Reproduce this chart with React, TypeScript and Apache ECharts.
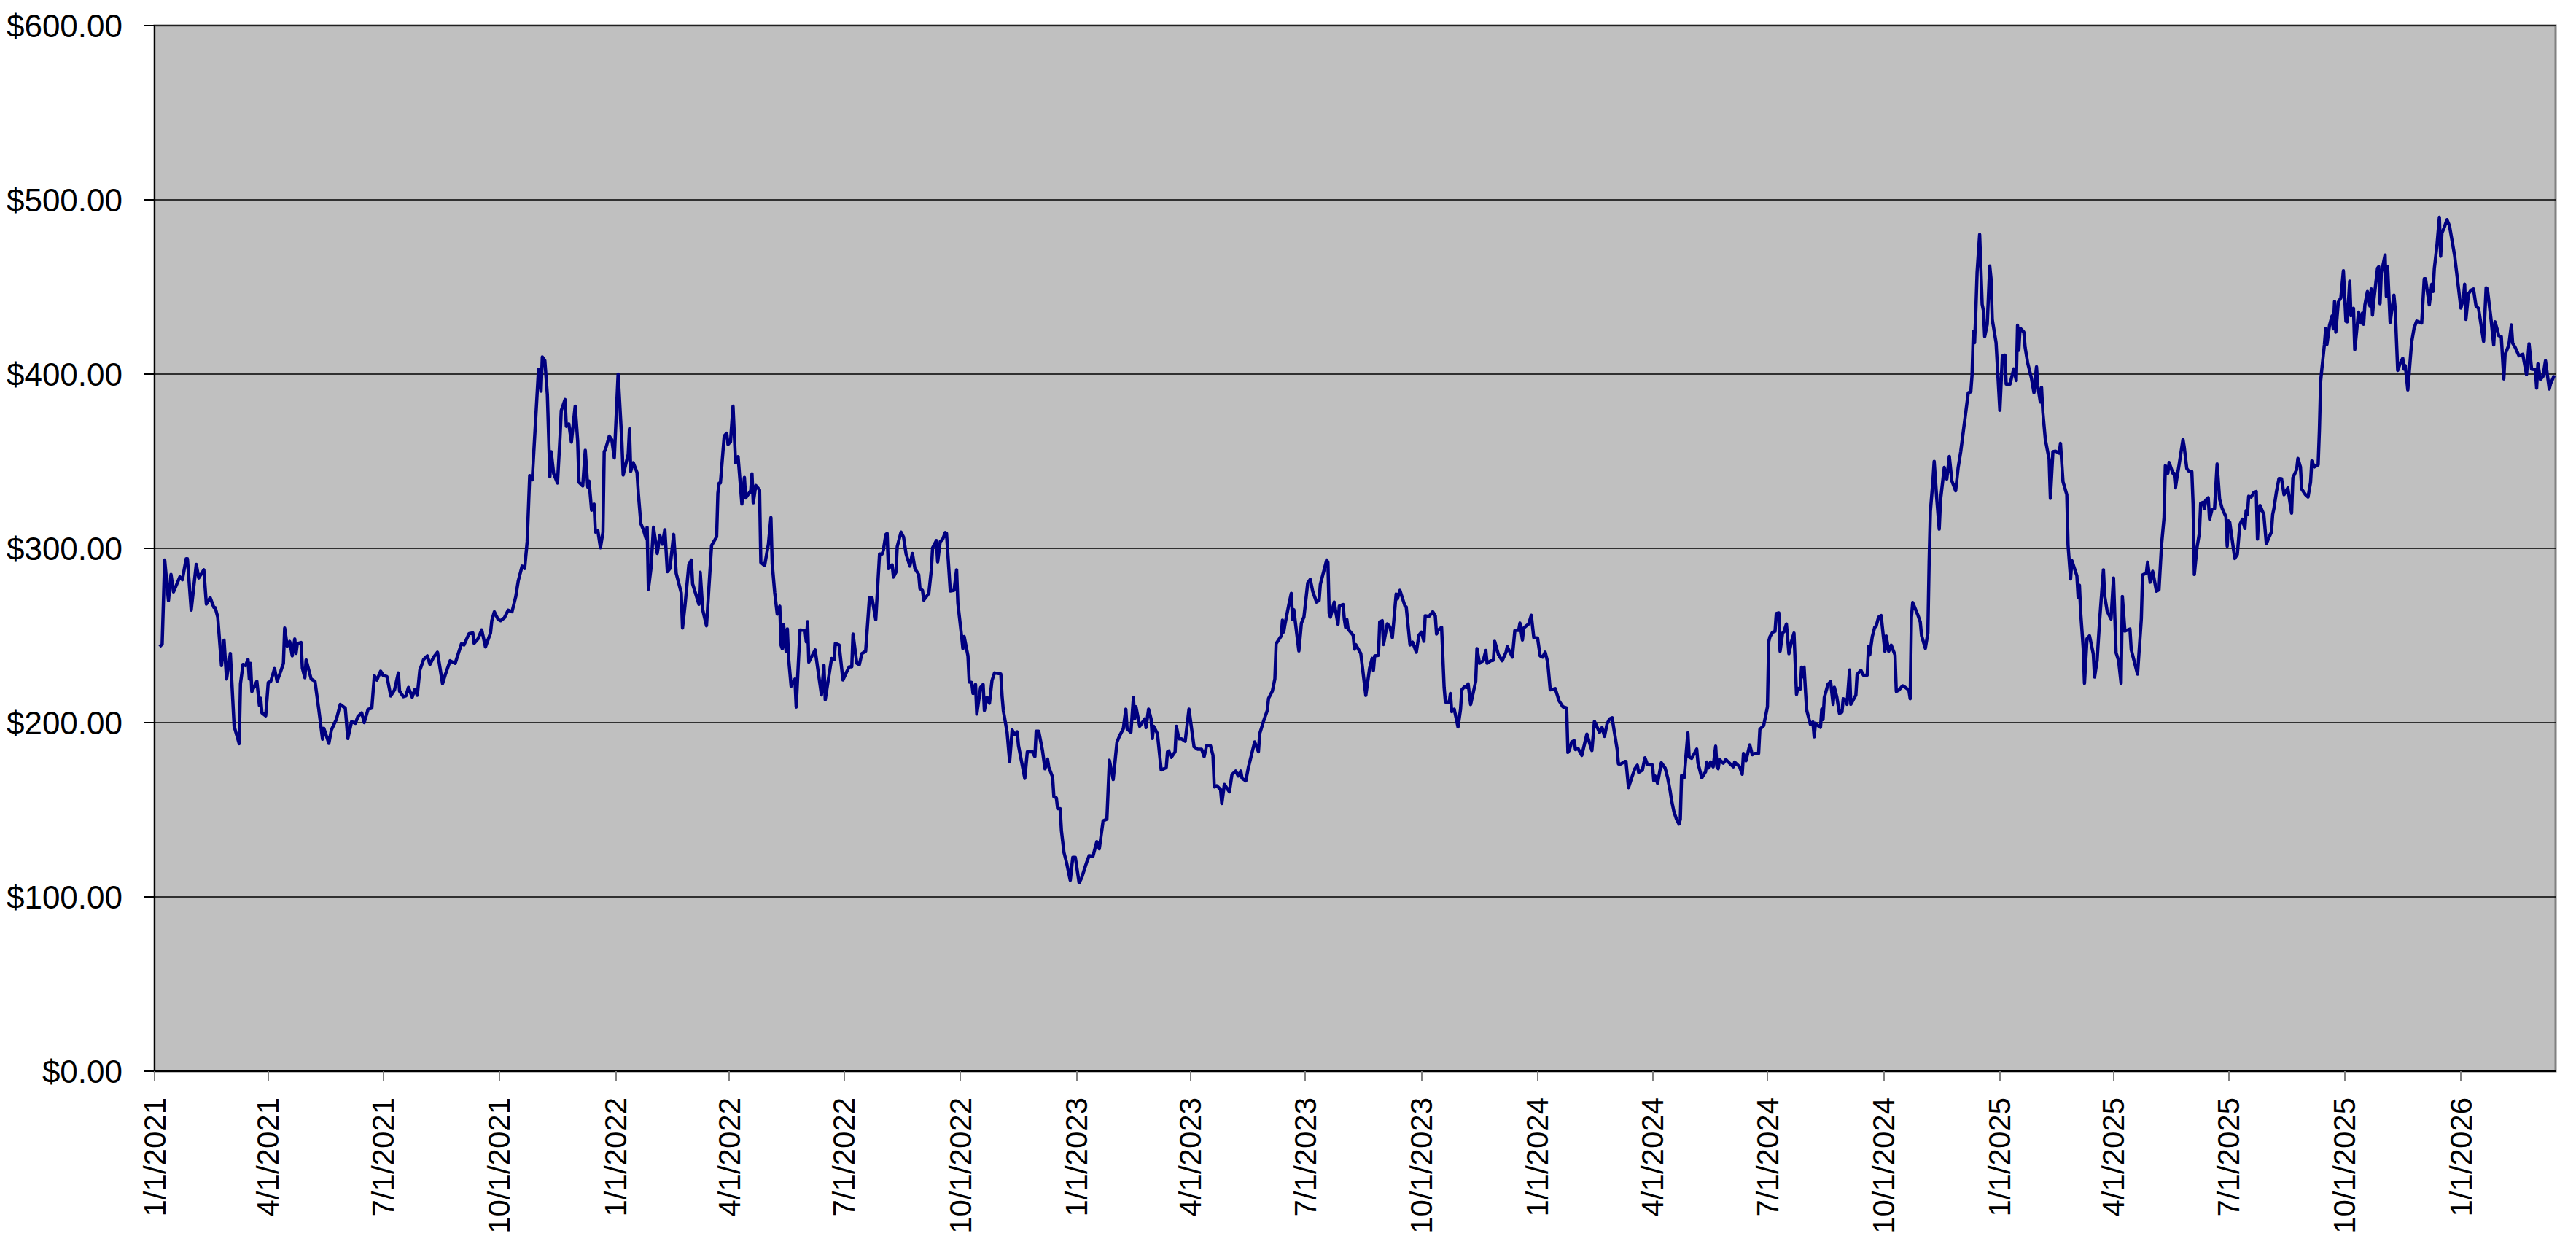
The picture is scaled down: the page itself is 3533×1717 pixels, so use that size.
import React, { useEffect, useRef } from "react";
import * as echarts from "echarts";

// Day offsets are counted from 1/1/2021; each pair is [dayOffset, closingPrice]
const START_UTC = Date.UTC(2021, 0, 1);
const DAY_MS = 86400000;
const axisEndDay = 1901;

const quarterLabels = [
  "1/1/2021", "4/1/2021", "7/1/2021", "10/1/2021",
  "1/1/2022", "4/1/2022", "7/1/2022", "10/1/2022",
  "1/1/2023", "4/1/2023", "7/1/2023", "10/1/2023",
  "1/1/2024", "4/1/2024", "7/1/2024", "10/1/2024",
  "1/1/2025", "4/1/2025", "7/1/2025", "10/1/2025",
  "1/1/2026",
];

const priceMin = 0;
const priceMax = 600;
const priceStep = 100;

const prices2021a: [number, number][] = [
  [4,243.6],[6,245],[8,293.3],[11,270],[13,285],[15,275],[20,283.6],[22,282],[25,294],[26,294],[29,264.5],[33,290.8],[35,283],[39,287.7],[41,268],[44,271.7],[47,266],[48,266],[50,260.6],[53,232.7],[55,247.3],[57,225],[60,239.7],[63,197.9],[67,187.9],[68,222.3],[70,233.4],[72,232.7],[74,236.2],[75,225],[76,234],[77,217.8],[81,223.7],[83,209.7],[84,214],[85,205.6],[88,203.9],[90,223],[92,223.7],[95,231],[97,223.7],[100,229.7],[102,234],[103,254.3],[105,243.9],[107,246.6],[109,238.3],[111,248],[112,239.7],[113,245.3],[116,246],[117,231.3],[119,225.8],[120,236],[124,225],[127,223.7],[130,207.6],[133,190.5],[134,196.8],[138,188.1],[140,195.8],[144,202],[147,210.4],[151,208.3],[153,190.9],[156,200.6],[159,199.6],[161,203.5],[164,205.6],[166,200],[169,207.6],[172,208.3],[174,226.9],[176,224.4],[179,229.5],[181,227.1],[184,226.4],[187,215.3],[190,218.8],[193,228.5],[194,218],[197,214.9],[199,215.3],[201,220.2],[204,214.6],[206,219],[208,215.7],[210,230],[213,236.2],[216,238.3],[218,233.4],[221,237.6],[224,240.4],[228,222.3],[230,227.1],[234,235.5],[238,234],[243,245.3],[245,244.6],[249,251.1],[252,251.5],[253,245.5],[256,248],[259,253.2],[262,243.4],[266,251.5],[267,258.5],[269,263.6],[272,259.2],[274,258.5],[277,260.2],[280,264.5],[283,263.6],[286,272.4],[288,281.5],[291,289.8],
];

const prices2021b: [number, number][] = [
  [293,288.4],[295,303.8],[297,341.7],[299,339.3],[304,402.8],[306,390.2],[307,409.8],[309,407.7],[311,388.1],[313,341],[314,355.4],[316,342.8],[319,337.5],[321,363.7],[322,379.1],[325,385.4],[326,370],[328,371.4],[330,361],[333,381.6],[335,361.6],[336,337.9],[339,335.8],[341,356.3],[343,335.1],[344,338.6],[346,321.9],[348,325.4],[349,309.3],[351,310],[353,300.3],[355,309.3],[356,355.4],[357,356.8],[360,364.4],[362,362.3],[364,351.9],[367,400],[370,361],[371,342.1],[375,354],[376,368.6],[377,344.2],[379,349.1],[382,343.5],[383,331.7],[385,314.2],[387,310.7],[389,305.9],[390,312.1],[391,276.6],[393,288.4],[395,312.1],[398,297.1],[400,307.5],[402,302.4],[404,310.7],[406,286.6],[408,288.4],[411,308],[413,285.6],[417,274.5],[418,254.3],[420,267.5],[423,290.5],[425,293.3],[426,279.6],[431,267.8],[432,286.3],[434,264.7],[437,255.6],[441,301.6],[445,306.6],[446,331.7],[447,337.5],[448,337.5],[451,364.4],[453,366.1],[454,359.6],[456,361.2],[458,381.6],[460,349.1],[462,352.6],[465,325.4],[467,340.7],[468,328.9],[472,333.1],[473,342.8],[474,326.1],[476,336.1],[479,333.5],[480,291.9],[483,290.1],[486,302.4],[488,317.7],[489,291.2],[491,274.5],[493,262.2],[495,266.8],[496,244.5],[497,242.4],[498,256.3],[500,241],[501,253.8],[502,236.8],[504,220.8],[507,225],[508,208.9],[511,253.1],[515,252.9],[516,246.3],[517,258],[518,234.7],[523,241.7],[528,215.9],[530,232.9],[531,213.1],[536,236.8],[538,236.1],[539,245.5],[542,244.5],[545,224.5],[548,229.2],[550,232],[552,232],[553,250.8],[556,234],[558,233.3],[560,239.6],[563,241],[566,271.7],[568,271.7],[571,259.1],[574,296.8],[576,296.8],[577,298.9],[579,308],[580,308.6],[581,288.4],[584,290.5],[585,283.5],[587,286.3],[588,301],[591,309.3],
];

const prices2022: [number, number][] = [
  [593,306.5],[595,296.8],[598,289.8],[600,297.1],[602,288.4],[605,285],[606,276.9],[608,275.9],[609,270.3],[613,274.2],[615,287.7],[616,300.3],[619,304.5],[620,292.2],[622,303.8],[624,305.2],[626,309.1],[627,308.6],[630,275.5],[633,275.9],[635,287.7],[636,268.5],[639,249.4],[640,242.5],[641,249.4],[644,238.3],[645,223.3],[647,223],[648,216.7],[650,221.9],[651,204.9],[654,220.2],[656,221.9],[657,207],[659,214.6],[661,211.1],[663,224.1],[665,228.5],[670,227.9],[671,215.3],[672,207],[675,194.4],[677,177.7],[679,195.8],[681,193],[683,194.7],[684,186.8],[689,168],[691,183.3],[695,183.3],[697,180.5],[698,195.1],[700,195.1],[703,184],[705,173.5],[707,179.1],[708,174.5],[711,168.7],[712,157.5],[714,156.8],[715,150.6],[717,150.6],[718,138],[720,125.5],[722,119.9],[725,109.5],[727,122.7],[729,122.7],[732,108.1],[734,110.9],[738,119.9],[740,123.7],[743,123.4],[746,131.7],[748,127.6],[751,143.6],[754,144.6],[756,178.4],[759,167.3],[762,188.9],[764,192.3],[767,196.5],[769,207.7],[770,196.5],[773,194.4],[775,214.3],[776,202.1],[777,209.1],[780,197.9],[784,202.1],[785,197.2],[787,207.7],[789,202.1],[790,190.9],[791,197.9],[794,193.7],[797,172.8],[801,174.2],[802,183.3],[803,183.7],[805,180.1],[808,183.3],[809,197.9],[811,190.7],[813,190.7],[816,189.3],[819,207.7],[823,186.1],[826,184.7],[829,184.7],[831,180.5],[833,186.8],[836,186.8],[838,181.2],[839,163.1],[841,163.8],[844,161.7],[845,153.6],[847,164.5],[851,160.3],[853,170.1],[856,172.2],[858,169.4],[860,172.2],[861,168],[864,166.6],[866,174.2],[871,188.9],[874,183.3],[875,193.7],[878,200.7],[881,207],[882,213.9],[885,218.1],[887,225.1],[888,245.3],[892,249.7],[893,258.8],
];

const prices2023: [number, number][] = [
  [894,252],[895,256.4],[898,267.5],[900,274.2],[901,259.2],[902,264.8],[906,241.1],[908,257.1],[910,260.6],[913,280.1],[915,282.2],[917,275.2],[920,269.2],[922,270.1],[923,279.4],[926,287.7],[928,293.3],[929,291.9],[930,262.7],[931,260.6],[934,269.2],[935,264.5],[937,256.4],[938,266.9],[941,267.8],[942,259.2],[943,254.6],[944,259.2],[945,253.6],[949,250.1],[950,242.2],[951,244.8],[955,239.7],[959,215.6],[962,231.3],[964,236.9],[965,229.9],[966,238.3],[969,238.6],[970,257.8],[972,258.5],[973,244.8],[976,256.7],[978,255],[980,248.7],[983,273.8],[984,271],[986,275.9],[990,266.9],[991,266.4],[994,244.6],[996,246.2],[999,240.4],[1001,250.1],[1003,251.9],[1005,246.7],[1006,261.3],[1009,260.9],[1012,263.6],[1014,261.3],[1015,250.8],[1016,252.9],[1019,254.7],[1021,220.2],[1022,211.8],[1025,211.8],[1026,216.7],[1027,206.3],[1029,207.7],[1032,197.5],[1034,207.7],[1035,218.8],[1037,220.5],[1039,220.2],[1040,222.3],[1042,210.4],[1046,223.7],[1047,242.5],[1049,234.1],[1052,235.5],[1054,241.4],[1055,234.1],[1058,235.5],[1060,235.8],[1061,246.7],[1064,239],[1067,235.5],[1070,240.4],[1071,243.6],[1075,237.6],[1077,252.9],[1080,252.9],[1081,257.1],[1083,247.4],[1084,254.3],[1088,256.7],[1090,261.6],[1092,248.7],[1095,248.5],[1097,238.3],[1099,237.6],[1101,240.4],[1103,234.8],[1105,218.8],[1109,219.5],[1112,212.5],[1115,209.1],[1118,208.4],[1119,182.9],[1120,184],[1122,188.9],[1124,189.6],[1125,184.5],[1127,185.2],[1130,181.2],[1134,193.4],[1138,184],[1140,200.7],[1141,199.3],[1144,194.4],[1146,197.2],[1148,192.1],[1150,199.3],[1152,202.1],[1154,202.8],[1156,193.7],[1158,184.7],[1159,176.3],[1161,176.3],[1164,177.7],[1165,177.7],[1167,162.7],[1170,169.4],[1172,173.5],[1174,175.6],[1175,171.4],[1178,172.8],[1180,179.8],[1182,175.9],[1186,175.6],[1187,166.6],[1188,169.4],[1190,165.2],[1193,177],
];

const prices2024: [number, number][] = [
  [1196,173.9],[1198,168.3],[1200,160.6],[1201,155.7],[1203,148.7],[1205,144.6],[1207,141.8],[1208,144.6],[1209,169.7],[1211,168.3],[1214,194.1],[1215,180.2],[1217,179.5],[1221,184.8],[1222,176.7],[1225,168.3],[1228,171.8],[1229,177.4],[1230,173.9],[1232,177.4],[1234,174.6],[1236,186.5],[1237,174.6],[1238,173.6],[1239,178.8],[1242,176.7],[1244,178.8],[1248,176],[1250,174.6],[1251,177.4],[1255,174.6],[1257,170.4],[1258,182.3],[1260,178.1],[1263,187.2],[1265,181.6],[1267,182.3],[1270,182.3],[1271,196.2],[1274,198.3],[1277,209.1],[1278,246.5],[1279,249.3],[1281,251.8],[1283,252.4],[1284,262.6],[1286,263],[1287,240.9],[1289,251.4],[1290,252.1],[1292,256.6],[1293,248.2],[1294,239.5],[1296,246.5],[1298,251.4],[1300,216.1],[1301,219.7],[1303,219.3],[1304,231.8],[1305,226.3],[1306,231.8],[1308,207.4],[1311,199],[1313,200.4],[1314,191.8],[1315,199.7],[1317,198.3],[1319,197.3],[1320,207.7],[1321,201.8],[1322,214.4],[1325,222.1],[1327,223.5],[1329,210.5],[1330,220.3],[1332,214.4],[1334,205.3],[1336,206],[1337,213.7],[1339,213],[1340,210.5],[1342,230.2],[1343,210.5],[1347,215.8],[1348,227.7],[1351,230],[1353,227.2],[1356,227.2],[1357,243.7],[1358,238.8],[1360,249.3],[1362,254.9],[1363,255.2],[1365,260.5],[1367,261.5],[1370,240.9],[1371,249.7],[1373,240.9],[1375,244.4],[1378,238.8],[1379,217.9],[1381,218.6],[1384,221.1],[1386,220.3],[1389,218.6],[1390,213.7],[1391,260.5],[1392,268.9],[1396,261.9],[1398,257.7],[1399,250],[1402,242.6],[1404,251.4],[1405,292],[1406,321.2],[1408,338.7],[1409,349.9],[1411,328.9],[1413,311],[1414,327.5],[1417,346.4],[1418,342.9],[1419,339.8],[1421,352.7],[1423,338.7],[1426,333.1],[1428,346.4],[1430,355.4],
];

const prices2025: [number, number][] = [
  [1436,389.3],[1438,389.8],[1439,399.5],[1440,424.5],[1441,418],[1442,436.4],[1443,458.5],[1445,480.1],[1447,440],[1448,436.4],[1449,421.5],[1451,428.5],[1453,462],[1454,454.9],[1455,431.3],[1458,418],[1461,379.2],[1463,410.4],[1465,410.9],[1466,394.2],[1469,394.2],[1472,403],[1474,396.3],[1475,428],[1476,413.6],[1477,426.4],[1480,424.1],[1481,415.3],[1483,406.5],[1486,397.7],[1488,389.3],[1490,404.2],[1491,393.3],[1493,384],[1494,392.4],[1495,378.3],[1497,362.5],[1500,351.1],[1501,328.7],[1503,355.5],[1505,355.8],[1508,354.6],[1509,360.2],[1511,338.2],[1514,330.8],[1515,301.8],[1517,282.4],[1518,293],[1522,284.2],[1523,271.8],[1524,278.9],[1525,263],[1527,242.8],[1528,222.5],[1530,248.1],[1532,249.8],[1535,239.3],[1536,226.1],[1538,235.7],[1540,258.6],[1543,287.7],[1544,272.7],[1546,263.9],[1549,259.5],[1551,282.9],[1553,240.1],[1555,235.7],[1557,222.5],[1558,272.4],[1560,252.5],[1564,253.7],[1565,241.9],[1570,227.8],[1573,259.5],[1574,284.7],[1577,285.9],[1578,292.1],[1580,280.6],[1582,286.8],[1585,275.4],[1587,276.2],[1589,301.8],[1591,317.6],[1592,347.5],[1594,343.1],[1595,349.3],[1598,343.1],[1599,343.1],[1600,334.7],[1601,339.6],[1603,348.4],[1606,362.5],[1607,358.1],[1609,345.8],[1611,344],[1613,344],[1614,325.5],[1615,285],[1617,300],[1619,308.8],[1620,325.9],[1622,326.4],[1623,322.9],[1624,327.6],[1626,329],[1627,316.7],[1629,322.4],[1631,322.9],[1633,348.4],[1635,328.2],[1637,322.9],[1640,318.1],[1641,301.2],[1642,315.8],[1643,315],[1647,294.2],[1649,296.5],[1651,313.6],[1653,316.7],[1655,311.4],[1656,321.7],[1657,319.4],[1658,329.9],[1660,329.4],[1662,332],[1664,332.6],[1665,305.3],[1666,320.6],[1667,324.6],[1670,319.4],[1672,302.6],[1674,306.2],[1676,309.3],[1677,319.4],[1678,322.9],[1680,332.6],[1682,340.1],[1684,340],[1686,330.8],[1689,334.7],[1692,320.2],[1693,340.5],[1696,345.2],[1697,351.6],[1699,346.7],[1700,334],[1703,330.8],[1705,329.4],[1707,337.9],[1708,350.2],[1710,346.7],[1713,347.9],[1714,367.8],[1715,396],[1716,403.3],[1718,417.1],[1719,426.2],[1720,417.1],[1722,428],[1724,433.3],[1725,425.9],[1726,441.7],[1727,424.1],[1729,441.4],[1731,443.8],[1733,459.3],[1735,430.3],
];

const prices2026: [number, number][] = [
  [1736,430],[1738,453.3],[1739,433.5],[1741,437.7],[1742,414],[1745,435.6],[1747,429.3],[1748,434.9],[1749,428.6],[1750,439.7],[1752,447.4],[1754,439.1],[1755,448.8],[1756,433.8],[1757,441.8],[1760,460.7],[1761,461.6],[1762,440.4],[1763,457.9],[1766,468.3],[1767,444.6],[1768,461.6],[1770,429.6],[1773,445.3],[1774,437.7],[1776,402.1],[1778,406.3],[1780,409.1],[1781,402.8],[1782,404.9],[1784,390.9],[1787,418.1],[1789,426.5],[1791,430.4],[1795,429.3],[1797,454.7],[1798,454.7],[1801,439.7],[1803,451.6],[1804,447.4],[1805,460.7],[1807,473.2],[1809,490],[1810,467.6],[1811,480.9],[1813,484.4],[1815,488.6],[1817,485.1],[1821,468.3],[1826,437.9],[1828,443.2],[1829,451.6],[1830,431.4],[1832,446],[1834,448.1],[1836,448.8],[1838,439.1],[1840,437.7],[1844,418.8],[1846,449.5],[1847,448.8],[1850,430.7],[1852,416.7],[1853,430],[1855,425.1],[1856,422],[1858,421.6],[1860,397.2],[1861,411.2],[1864,416.7],[1866,428.2],[1867,417.7],[1869,415.3],[1872,410.5],[1875,411.4],[1878,399.7],[1880,417.4],[1882,402.8],[1885,402.5],[1886,391.9],[1887,405.9],[1889,396.9],[1891,398.6],[1893,407.7],[1896,391.4],[1897,394.4],[1900,399.3],
];

const FONT = "'Liberation Sans', Arial, sans-serif";

function labelToDay(label: string): number {
  const [m, d, y] = label.split("/").map(Number);
  return Math.round((Date.UTC(y, m - 1, d) - START_UTC) / DAY_MS);
}

function dayToLabel(day: number): string {
  const dt = new Date(START_UTC + Math.round(day) * DAY_MS);
  return `${dt.getUTCMonth() + 1}/${dt.getUTCDate()}/${dt.getUTCFullYear()}`;
}

export default function App() {
  const ref = useRef<HTMLDivElement>(null);

  useEffect(() => {
    if (!ref.current) return;
    const chart = echarts.init(ref.current, undefined, { renderer: "svg" });
    const tickDays = quarterLabels.map(labelToDay);
    const data = [
      ...prices2021a,
      ...prices2021b,
      ...prices2022,
      ...prices2023,
      ...prices2024,
      ...prices2025,
      ...prices2026,
    ];
    chart.setOption({
      animation: false,
      backgroundColor: "#ffffff",
      grid: {
        left: 212,
        top: 35,
        right: 28,
        bottom: 248,
        show: true,
        backgroundColor: "#C0C0C0",
        borderColor: "#808080",
        borderWidth: 3,
      },
      xAxis: {
        type: "value",
        min: 0,
        max: axisEndDay,
        axisLine: { show: true, onZero: false, lineStyle: { color: "#000000", width: 2 } },
        axisTick: {
          show: true,
          inside: false,
          length: 14,
          customValues: tickDays,
          lineStyle: { color: "#808080", width: 2 },
        },
        axisLabel: {
          show: true,
          customValues: tickDays,
          rotate: 90,
          margin: 36,
          fontSize: 42,
          fontFamily: FONT,
          color: "#000000",
          formatter: (v: number) => dayToLabel(v),
        },
        splitLine: { show: false },
      },
      yAxis: {
        type: "value",
        min: priceMin,
        max: priceMax,
        interval: priceStep,
        axisLine: { show: true, lineStyle: { color: "#000000", width: 2 } },
        axisTick: { show: true, inside: false, length: 14, lineStyle: { color: "#000000", width: 2 } },
        axisLabel: {
          margin: 44,
          fontSize: 44,
          fontFamily: FONT,
          color: "#000000",
          formatter: (v: number) => `$${v.toFixed(2)}`,
        },
        splitLine: { show: true, lineStyle: { color: "#000000", width: 1.5 } },
      },
      series: [
        {
          type: "line",
          data,
          showSymbol: false,
          symbol: "none",
          smooth: false,
          lineStyle: { color: "#000080", width: 4.5, join: "round" },
        },
      ],
    });
    return () => chart.dispose();
  }, []);

  return (
    <div
      ref={ref}
      style={{ position: "fixed", left: 0, top: 0, width: "100vw", height: "100vh", background: "#ffffff" }}
    />
  );
}
